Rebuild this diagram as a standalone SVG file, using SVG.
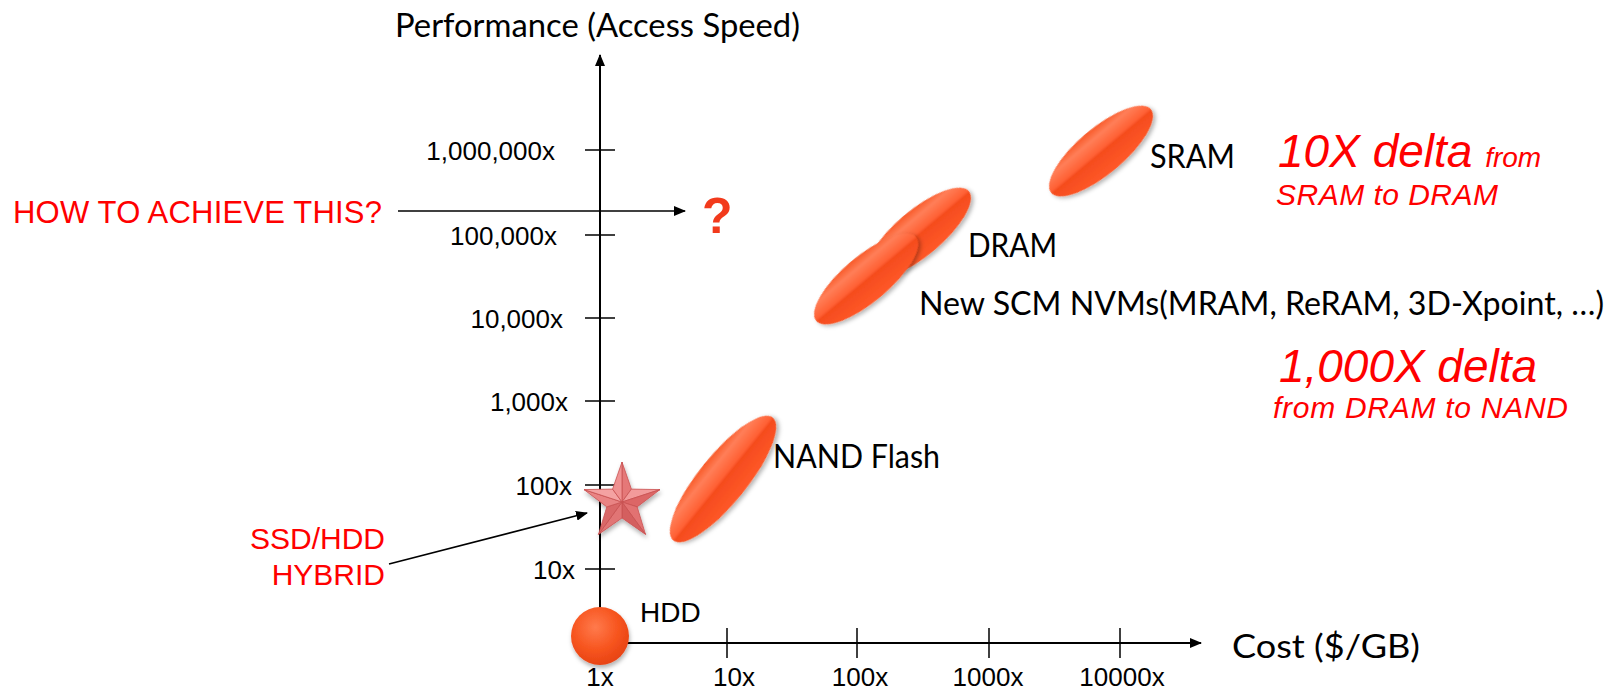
<svg xmlns="http://www.w3.org/2000/svg" width="1614" height="691" viewBox="0 0 1614 691">
  <defs>
    <linearGradient id="pill" x1="0" y1="0" x2="0" y2="1">
      <stop offset="0" stop-color="#F85A28"/>
      <stop offset="0.2" stop-color="#FF7E58"/>
      <stop offset="0.47" stop-color="#FF6134"/>
      <stop offset="0.53" stop-color="#F54C1E"/>
      <stop offset="1" stop-color="#FF5828"/>
    </linearGradient>
    <radialGradient id="ball" cx="0.42" cy="0.35" r="0.65">
      <stop offset="0" stop-color="#FF7A4C"/>
      <stop offset="0.6" stop-color="#F7551F"/>
      <stop offset="1" stop-color="#E84414"/>
    </radialGradient>
    <filter id="shadow" x="-30%" y="-30%" width="160%" height="160%">
      <feDropShadow dx="1" dy="3" stdDeviation="2" flood-color="#000" flood-opacity="0.3"/>
    </filter>
    <marker id="arrow" viewBox="0 0 12 10" refX="11" refY="5" markerWidth="12" markerHeight="10" markerUnits="userSpaceOnUse" orient="auto">
      <path d="M0,0 L12,5 L0,10 Z" fill="#000"/>
    </marker>
    <style>
      .axis { stroke: #000; stroke-width: 2; fill: none; }
      .tick { stroke: #000; stroke-width: 1.5; }
      .lead { stroke: #000; stroke-width: 1.6; fill: none; }
      .ticklbl { font-family: "Liberation Sans", Arial, sans-serif; font-size: 26px; fill: #000; }
      .lbl { font-family: Lato, "Liberation Sans", sans-serif; font-size: 32px; fill: #000; }
      .hdd { font-family: "Liberation Sans", Arial, sans-serif; font-size: 28px; fill: #000; }
      .red { font-family: "Liberation Sans", Arial, sans-serif; fill: #FF0000; }
      .redit { font-family: "Liberation Sans", Arial, sans-serif; font-style: italic; fill: #FF0000; }
      .pill { fill: url(#pill); filter: url(#shadow); }
    </style>
  </defs>

  <rect width="1614" height="691" fill="#fff"/>

  <!-- axes, ticks and pointer arrows -->
  <g id="connectors">
    <line class="axis" x1="600" y1="643" x2="600" y2="55" marker-end="url(#arrow)"/>
    <line class="axis" x1="600" y1="643" x2="1201" y2="643" marker-end="url(#arrow)"/>
    <line class="tick" x1="585" y1="150" x2="615" y2="150"/>
    <line class="tick" x1="585" y1="235" x2="615" y2="235"/>
    <line class="tick" x1="585" y1="318" x2="615" y2="318"/>
    <line class="tick" x1="585" y1="401" x2="615" y2="401"/>
    <line class="tick" x1="585" y1="485" x2="615" y2="485"/>
    <line class="tick" x1="585" y1="569" x2="615" y2="569"/>
    <line class="tick" x1="727" y1="628" x2="727" y2="658"/>
    <line class="tick" x1="857" y1="628" x2="857" y2="658"/>
    <line class="tick" x1="989" y1="628" x2="989" y2="658"/>
    <line class="tick" x1="1120" y1="628" x2="1120" y2="658"/>
    <line class="lead" x1="398" y1="211" x2="685" y2="211" marker-end="url(#arrow)"/>
    <line class="lead" x1="389" y1="564" x2="587" y2="513" marker-end="url(#arrow)"/>
  </g>

  <!-- axis titles -->
  <g id="axis-labels">
    <text class="lbl" x="395" y="37" font-size="34" textLength="405" lengthAdjust="spacingAndGlyphs">Performance (Access Speed)</text>
    <text class="lbl" x="1232" y="658" font-size="34" textLength="188" lengthAdjust="spacingAndGlyphs">Cost ($/GB)</text>
  </g>

  <!-- tick values -->
  <g id="tick-labels">
    <text class="ticklbl" text-anchor="end" x="555" y="160">1,000,000x</text>
    <text class="ticklbl" text-anchor="end" x="557" y="245">100,000x</text>
    <text class="ticklbl" text-anchor="end" x="563" y="328">10,000x</text>
    <text class="ticklbl" text-anchor="end" x="568" y="411">1,000x</text>
    <text class="ticklbl" text-anchor="end" x="572" y="495">100x</text>
    <text class="ticklbl" text-anchor="end" x="575" y="579">10x</text>
    <text class="ticklbl" text-anchor="middle" x="600" y="686">1x</text>
    <text class="ticklbl" text-anchor="middle" x="734" y="686">10x</text>
    <text class="ticklbl" text-anchor="middle" x="860" y="686">100x</text>
    <text class="ticklbl" text-anchor="middle" x="988" y="686">1000x</text>
    <text class="ticklbl" text-anchor="middle" x="1122" y="686">10000x</text>
  </g>

  <g id="hdd">
    <circle cx="600" cy="636" r="29" fill="url(#ball)" filter="url(#shadow)"/>
    <text class="hdd" x="640" y="622">HDD</text>
  </g>

  <g id="nand">
    <ellipse class="pill" cx="723" cy="479" rx="79" ry="24" transform="rotate(-51 723 479)"/>
    <text class="lbl" x="773" y="468" textLength="167" lengthAdjust="spacingAndGlyphs">NAND Flash</text>
  </g>

  <g id="dram">
    <ellipse class="pill" cx="919" cy="233" rx="65" ry="23" transform="rotate(-40 919 233)"/>
    <text class="lbl" x="968" y="257" textLength="89" lengthAdjust="spacingAndGlyphs">DRAM</text>
  </g>

  <g id="scm-nvm">
    <ellipse class="pill" cx="866" cy="279" rx="65" ry="23" transform="rotate(-40 866 279)"/>
    <text class="lbl" x="919" y="315" textLength="685" lengthAdjust="spacingAndGlyphs">New SCM NVMs(MRAM, ReRAM, 3D-Xpoint, …)</text>
  </g>

  <g id="sram">
    <ellipse class="pill" cx="1101" cy="151" rx="65" ry="23" transform="rotate(-40 1101 151)"/>
    <text class="lbl" x="1150" y="168" textLength="85" lengthAdjust="spacingAndGlyphs">SRAM</text>
  </g>

  <g id="hybrid">
    <g stroke="#C95252" stroke-width="0.8" stroke-linejoin="round" filter="url(#shadow)">
      <polygon points="622,502 622,462 631.4,489.1" fill="#E57878"/>
      <polygon points="622,502 631.4,489.1 660,489.6" fill="#F29A9A"/>
      <polygon points="622,502 660,489.6 637.2,506.9" fill="#DC6666"/>
      <polygon points="622,502 637.2,506.9 645.5,534.4" fill="#E27272"/>
      <polygon points="622,502 645.5,534.4 622,518" fill="#D45E5E"/>
      <polygon points="622,502 622,518 598.5,534.4" fill="#E17474"/>
      <polygon points="622,502 598.5,534.4 606.8,506.9" fill="#D96868"/>
      <polygon points="622,502 606.8,506.9 584,489.6" fill="#E98484"/>
      <polygon points="622,502 584,489.6 612.6,489.1" fill="#F4A2A2"/>
      <polygon points="622,502 612.6,489.1 622,462" fill="#F09292"/>
    </g>
    <text class="red" font-size="30" text-anchor="end" x="385" y="549">SSD/HDD</text>
    <text class="red" font-size="30" text-anchor="end" x="385" y="585">HYBRID</text>
  </g>

  <g id="target">
    <text class="red" font-size="31" x="13" y="223" textLength="369">HOW TO ACHIEVE THIS?</text>
    <text font-family="Liberation Sans, Arial, sans-serif" font-weight="bold" font-size="50" fill="#F23A1C" x="702" y="233">?</text>
  </g>

  <g id="sram-dram-delta">
    <text class="redit" x="1278" y="167"><tspan font-size="46">10X delta </tspan><tspan font-size="28">from</tspan></text>
    <text class="redit" font-size="30" x="1276" y="205" textLength="222">SRAM to DRAM</text>
  </g>

  <g id="dram-nand-delta">
    <text class="redit" font-size="46" x="1279" y="382" textLength="258">1,000X delta</text>
    <text class="redit" font-size="30" x="1273" y="418" textLength="295">from DRAM to NAND</text>
  </g>
</svg>
